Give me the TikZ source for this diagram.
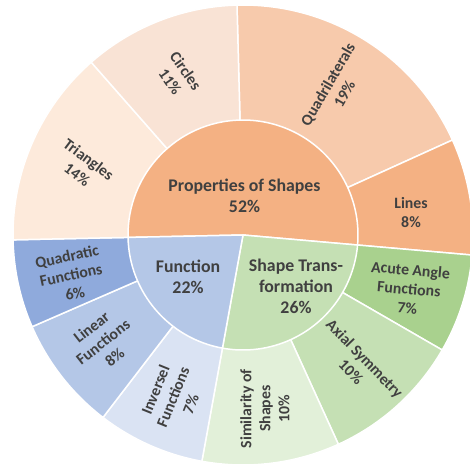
\documentclass[tikz,border=0pt]{standalone}
\usepackage{fontspec}
\setmainfont{Carlito}
\usepackage{tikz}
\definecolor{txt}{HTML}{404040}
\definecolor{propC}{HTML}{F4B183}
\definecolor{quadC}{HTML}{F7CAAC}
\definecolor{circC}{HTML}{F9E3D5}
\definecolor{triC}{HTML}{FDEADB}
\definecolor{funC}{HTML}{B4C7E7}
\definecolor{qfunC}{HTML}{8FAADC}
\definecolor{ifunC}{HTML}{DAE3F3}
\definecolor{transC}{HTML}{C5E0B4}
\definecolor{acuteC}{HTML}{A9D18E}
\definecolor{simC}{HTML}{E2F0D9}
\tikzset{lab/.style={font=\bfseries\fontsize{17.8}{21}\selectfont,text=txt,align=center}}
\tikzset{sublab/.style={font=\bfseries\fontsize{15.8}{19}\selectfont,text=txt,align=center}}
\tikzset{sector/.style={white,line width=1.5pt}}

\begin{document}
\begin{tikzpicture}[line join=round,x=1pt,y=1pt]
            \useasboundingbox (-243,-229) rectangle (227,235);
            % outer ring
            \filldraw[sector,fill=quadC](0,0)--(91.5:230) arc[start angle=91.5,end angle=24.4,radius=230]--cycle;
            \filldraw[sector,fill=propC](0,0)--(24.4:230) arc[start angle=24.4,end angle=-5,radius=230]--cycle;
            \filldraw[sector,fill=acuteC](0,0)--(-5:230) arc[start angle=-5,end angle=-30,radius=230]--cycle;
            \filldraw[sector,fill=transC](0,0)--(-30:230) arc[start angle=-30,end angle=-65.5,radius=230]--cycle;
            \filldraw[sector,fill=simC](0,0)--(-65.5:230) arc[start angle=-65.5,end angle=-100.3,radius=230]--cycle;
            \filldraw[sector,fill=ifunC](0,0)--(-100.3:230) arc[start angle=-100.3,end angle=-127.5,radius=230]--cycle;
            \filldraw[sector,fill=funC](0,0)--(-127.5:230) arc[start angle=-127.5,end angle=-156.5,radius=230]--cycle;
            \filldraw[sector,fill=qfunC](0,0)--(-156.5:230) arc[start angle=-156.5,end angle=-178.8,radius=230]--cycle;
            \filldraw[sector,fill=triC](0,0)--(-178.8:230) arc[start angle=-178.8,end angle=-228.7,radius=230]--cycle;
            \filldraw[sector,fill=circC](0,0)--(131.3:230) arc[start angle=131.3,end angle=91.5,radius=230]--cycle;
            % inner ring
            \filldraw[sector,fill=propC](0,0)--(181.2:115) arc[start angle=181.2,end angle=-5,radius=115]--cycle;
            \filldraw[sector,fill=transC](0,0)--(-5:115) arc[start angle=-5,end angle=-100.3,radius=115]--cycle;
            \filldraw[sector,fill=funC](0,0)--(-100.3:115) arc[start angle=-100.3,end angle=-178.8,radius=115]--cycle;
            \begin{scope}[sublab]
              \node (circ) at (-65,158.5) [rotate=-55] {Circles\\11\%};
              \node (tri) at (-160,68) [rotate=-37] {Triangles\\14\%};
              \node (quad) at (93,146) [rotate=60] {Quadrilaterals\\19\%};
              \node (line) at (168,22) {Lines\\8\%};
              \node (acute) at (166,-54) [rotate=-5] {Acute Angle\\Functions\\7\%};
              \node (axial) at (115,-130) [rotate=-46] {Axial Symmetry\\10\%};
              \node (sim) at (22,-173.7) [rotate=90] {Similarity of\\Shapes\\10\%};
              \node (ifun) at (-70,-162) [rotate=68] {Inversel\\Functions\\7\%};
              \node (lfun) at (-140,-107) [rotate=38] {Linear\\Functions\\8\%};
              \node (qfun) at (-172,-40) [rotate=12] {Quadratic\\Functions\\6\%};
            \end{scope}
            \node[lab] (props) at (1.5,39) {Properties of Shapes\\52\%};
            \node[lab] (func) at (-55,-41.5) {Function\\22\%};
            \node[lab] (trans) at (53,-51.5) {Shape Trans-\\formation\\26\%};
\end{tikzpicture}
\end{document}
